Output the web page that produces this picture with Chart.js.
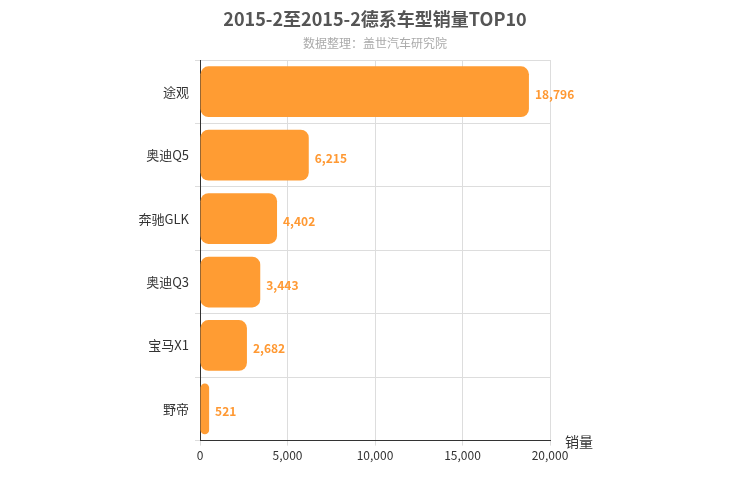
<!DOCTYPE html>
<html><head><meta charset="utf-8">
<script src="https://cdn.jsdelivr.net/npm/chart.js@4"></script>
<style>body{margin:0;background:#fff}#w{width:750px;height:500px}</style>
</head><body><div id="w"><canvas id="c"></canvas></div>
<script>
const categories = ["途观","奥迪Q5","奔驰GLK","奥迪Q3","宝马X1","野帝"];
const sales = [18796,6215,4402,3443,2682,521];
const xTicks = [0,5000,10000,15000,20000];
const FONT = "'Microsoft YaHei','Noto Sans CJK SC',sans-serif";
const extras = {
  id:'extras',
  afterDraw(chart){
    const ctx = chart.ctx;
    ctx.save();
    ctx.textAlign='center';ctx.textBaseline='middle';
    ctx.fillStyle='#555';ctx.font="bold 18px "+FONT;
    ctx.fillText("2015-2至2015-2德系车型销量TOP10",375,19);
    ctx.fillStyle='#aaa';ctx.font="12px "+FONT;
    ctx.fillText("数据整理：盖世汽车研究院",375,43);
    const meta = chart.getDatasetMeta(0);
    ctx.fillStyle='#ff9933';ctx.font="bold 12px "+FONT;ctx.textAlign='left';
    meta.data.forEach((b,i)=>{ctx.fillText(sales[i].toLocaleString('en-US'),b.x+6,b.y+3);});
    const xs = chart.scales.x;
    ctx.fillStyle='#333';ctx.font="14px "+FONT;
    ctx.fillText("销量",xs.right+15,xs.top+1);
    ctx.restore();
  }
};
new Chart(document.getElementById('c'),{
  type:'bar',
  data:{labels:categories,datasets:[{data:sales,backgroundColor:'#ff9c33',borderRadius:8,borderSkipped:false,barPercentage:0.8,categoryPercentage:1}]},
  options:{
    indexAxis:'y',responsive:true,maintainAspectRatio:false,animation:false,
    layout:{padding:{left:0,right:200,top:60,bottom:34}},
    plugins:{legend:{display:false},tooltip:{enabled:false}},
    scales:{
      x:{min:0,max:20000,afterBuildTicks(s){s.ticks=xTicks.map(v=>({value:v}));},
        grid:{color:'#ddd',drawTicks:true,tickLength:5},border:{color:'#333'},
        ticks:{color:'#333',font:{size:12,family:FONT},callback:v=>v.toLocaleString('en-US')}},
      y:{afterFit(s){s.width=200;},grid:{color:'#ddd',offset:true,tickLength:5},border:{color:'#333'},
        ticks:{color:'#333',font:{size:13,family:FONT},padding:6}}
    }
  },
  plugins:[extras]
});
</script></body></html>
